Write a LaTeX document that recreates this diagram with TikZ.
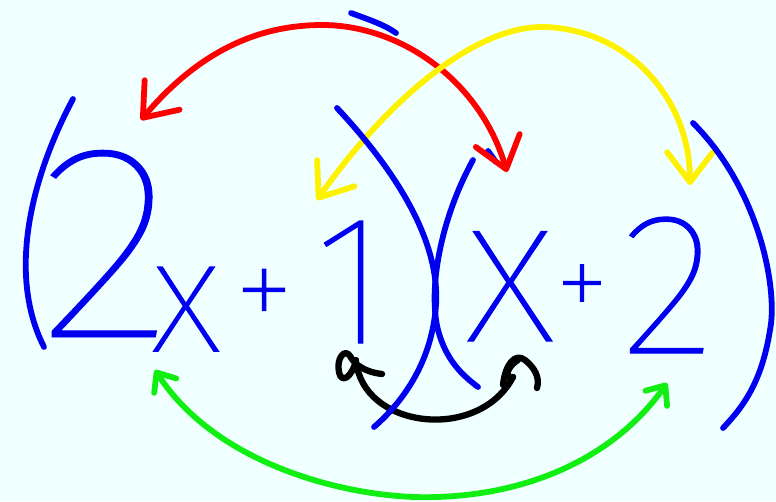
\documentclass[tikz,border=0pt]{standalone}
\usepackage{fontspec}
\usetikzlibrary{arrows.meta}
\IfFontExistsTF{Fira Sans Thin}{\newfontfamily\handfont{Fira Sans Thin}}{%
  \IfFontExistsTF{Fira Sans Light}{\newfontfamily\handfont{Fira Sans Light}}{%
    \IfFontExistsTF{DejaVu Sans Light}{\newfontfamily\handfont{DejaVu Sans Light}}{%
      \newfontfamily\handfont{Fira Sans}}}}
\definecolor{PenBlue}  {HTML}{0000F0}
\definecolor{PenRed}   {HTML}{FF0000}
\definecolor{PenYellow}{HTML}{FFF200}
\definecolor{PenGreen} {HTML}{11EE11}
\definecolor{PaperCyan}{HTML}{F0FFFF}
% size, then how much ink to add to the thin strokes
\newcommand{\penfont}[2]{\handfont\addfontfeatures{FakeBold=#2}\fontsize{#1}{#1}\selectfont}

\begin{document}
\begin{tikzpicture}[
  x = 0.02cm, y = -0.02cm,
  pen/.style     = {line width=3.3pt, line cap=round, line join=round},
  digit/.style   = {text=PenBlue, inner sep=0pt, anchor=base},
  bigbarb/.style = {{Straight Barb[length=17pt, width=26pt, round]}-{Straight Barb[length=17pt, width=26pt, round]}},
  smallbarb/.style = {{Straight Barb[length=9pt, width=15pt, round]}-{Straight Barb[length=9pt, width=15pt, round]}},
]
\useasboundingbox (0,0) rectangle (776,501);
\fill[PaperCyan] (0,0) rectangle (776,501);

% stray strokes
\draw[pen, PenBlue] (351,13) .. controls (370,20) and (385,25) .. (396,33);
\draw[pen, PenBlue] (488,151) -- (496,162);

% the four products
\draw[pen, PenRed, bigbarb] (141,120) .. controls (200,50) and (260,25) .. (322,25)
  .. controls (400,25) and (480,80) .. (507,172);
\draw[pen, PenYellow, bigbarb] (317,200) .. controls (380,110) and (470,25) .. (545,27)
  .. controls (630,30) and (690,100) .. (690,185);
\draw[pen, PenGreen, smallbarb] (155,370) .. controls (220,470) and (360,500) .. (436,497)
  .. controls (540,494) and (620,450) .. (667,383);
\draw[pen, black, line width=3.6pt] (357,367) .. controls (370,430) and (480,440) .. (513,377);
\draw[pen, black, line width=3.6pt] (382,374) .. controls (365,372) and (355,365) .. (350,356)
  .. controls (345,348) and (336,358) .. (339,372) .. controls (341,384) and (352,378) .. (356,360);
\draw[pen, black, line width=3.6pt] (503,385) .. controls (505,365) and (515,352) .. (525,360)
  .. controls (535,368) and (540,378) .. (537,388);
\draw[pen, black, line width=3.6pt] (518,360) .. controls (505,368) and (505,380) .. (513,377);

% brackets
\draw[pen, PenBlue] (73,99) .. controls (35,170) and (5,270) .. (44,347);
\draw[pen, PenBlue] (337,108) .. controls (395,170) and (440,240) .. (436,305)
  .. controls (432,360) and (405,400) .. (374,427);
\draw[pen, PenBlue] (473,160) .. controls (440,220) and (428,290) .. (438,330)
  .. controls (446,360) and (462,375) .. (478,387);
\draw[pen, PenBlue] (693,123) .. controls (760,190) and (778,290) .. (770,330)
  .. controls (762,380) and (745,405) .. (723,428);

% terms
\node[digit, font=\penfont{158}{0.35}, xscale=1.05] (twoA) at (106,337) {2};
\node[digit, font=\penfont{92}{1.0}]  (xA)    at (186,351) {x};
\node[digit, font=\penfont{70}{1.45}, anchor=center] (plusA) at (264,300) {+};
\node[digit, font=\penfont{105}{0.75}] (oneA)  at (351,343) {1};
\node[digit, font=\penfont{120}{0.6}] (xB)    at (510,341) {x};
\node[digit, font=\penfont{62}{1.7}, anchor=center] (plusB) at (582,292) {+};
\node[digit, font=\penfont{115}{0.65}] (twoB)  at (668,353) {2};
\end{tikzpicture}
\end{document}
